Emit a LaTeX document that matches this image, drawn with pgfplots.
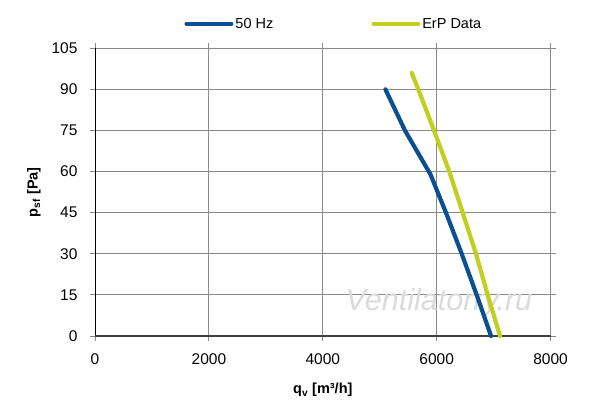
\documentclass[border=0pt]{standalone}
\usepackage{pgfplots}
\pgfplotsset{compat=1.18}
\usepackage{fontspec}
\setmainfont{Liberation Sans}
\definecolor{blueline}{HTML}{0A4F91}
\definecolor{erpline}{HTML}{C2CF1E}
\definecolor{gridgray}{HTML}{8A8A8A}
\begin{document}
\begin{tikzpicture}[x=1pt,y=1pt]
\path[use as bounding box] (0,0) rectangle (600,406);
\begin{axis}[
  at={(95pt,70pt)}, anchor=south west,
  scale only axis, width=455.6pt, height=287.7pt,
  xmin=0, xmax=8000, ymin=0, ymax=105,
  xtick={0,2000,4000,6000,8000},
  ytick={0,15,30,45,60,75,90,105},
  scaled ticks=false,
  /pgf/number format/1000 sep={},
  /pgf/number format/assume math mode=true,
  tick label style={font=\fontsize{15.5}{17}\selectfont},
  xticklabel style={yshift=-9pt},
  yticklabel style={xshift=-9pt},
  axis line style={draw=none},
  grid=major,
  major grid style={draw=gridgray, line width=0.9pt},
  xmajorgrids, ymajorgrids,
  tick style={draw=gridgray, line width=0.9pt},
  tick align=outside,
  major tick length=5pt,
  xlabel={\bfseries q\textsubscript{v} [m³/h]},
  ylabel={\bfseries p\textsubscript{sf} [Pa]},
  label style={font=\fontsize{14.5}{16}\selectfont},
  xlabel style={yshift=-12pt},
  ylabel style={yshift=4pt},
  legend columns=2,
  legend style={at={(0.5,1)}, anchor=south, yshift=14.5pt, xshift=11pt, draw=none, fill=none,
    font=\fontsize{14.5}{16}\selectfont,
    /tikz/every even column/.append style={column sep=96pt}},
  legend image code/.code={\draw[#1, line width=4pt, line cap=round] (0pt,0pt) -- (45pt,0pt);},
  clip=false,
]
\node[font=\itshape\fontsize{30.5}{32}\selectfont, text=gray!28, anchor=center] at (axis cs:6040,12.2) {Ventilatorry.ru};
\draw[black, line width=0.9pt] (axis cs:0,0) -- (axis cs:0,105);
\draw[black!75, line width=1.2pt] (axis cs:0,0) -- (axis cs:8000,0);
\addplot[blueline, line width=4.2pt, line cap=round, line join=round] coordinates {
 (5100,90) (5443,75) (5890,59) (6163,45) (6439,30) (6702,15) (6954,0)
};
\addlegendentry{50 Hz}
\addplot[erpline, line width=4.2pt, line cap=round, line join=round] coordinates {
 (5561,96) (5677,90) (5953,75) (6222,60) (6456,45) (6690,30) (6895,15) (7112,0)
};
\addlegendentry{ErP Data}
\end{axis}
\end{tikzpicture}
\end{document}
